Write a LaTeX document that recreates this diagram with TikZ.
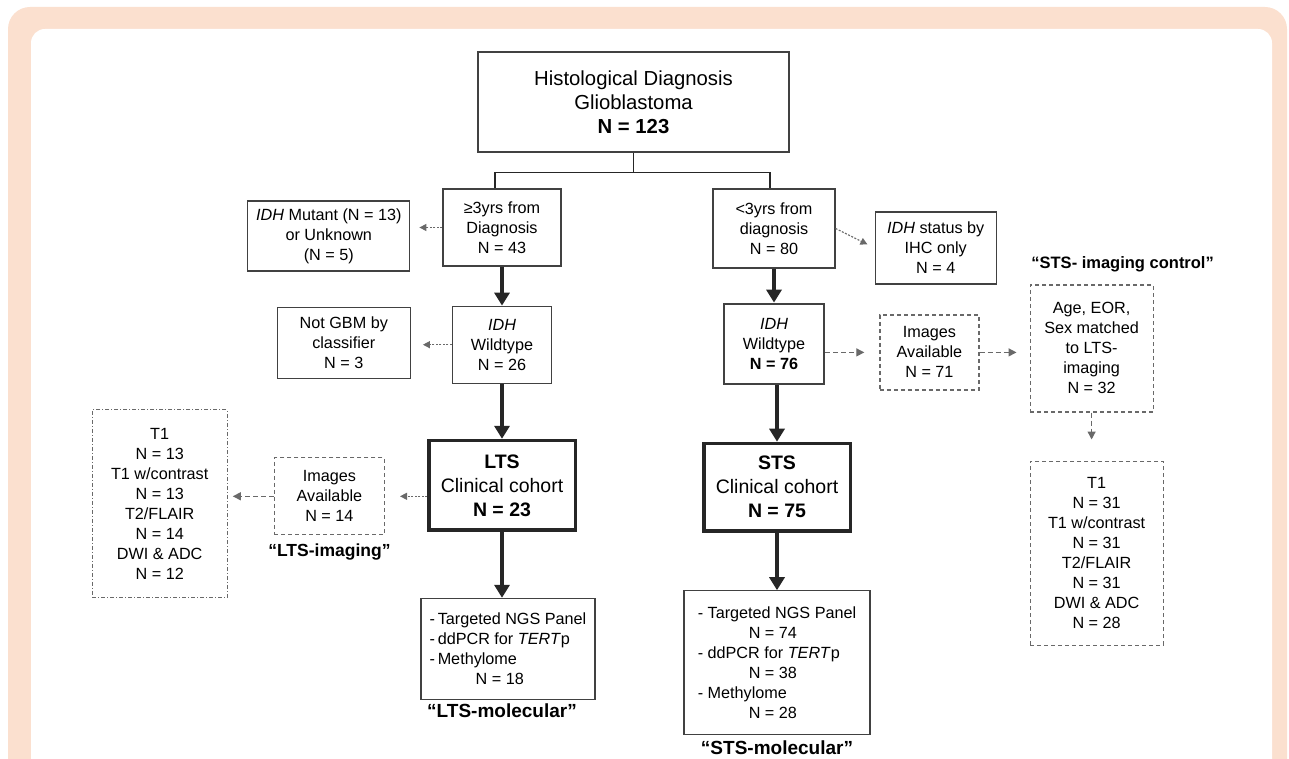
\documentclass[tikz,border=0pt]{standalone}
\usepackage{fontspec}
\setmainfont{Liberation Sans}
\usetikzlibrary{positioning}
\usetikzlibrary{arrows.meta}
\definecolor{peach}{RGB}{251,224,207}
\definecolor{boxgray}{RGB}{65,65,65}
\definecolor{dashgray}{RGB}{105,105,105}
\newcommand{\fsm}{\fontsize{16.2}{20}\selectfont}
\newcommand{\fbig}{\fontsize{19.5}{24}\selectfont}
\newcommand{\flbl}{\fontsize{17.5}{21}\selectfont\bfseries}

\begin{document}
\begin{tikzpicture}[x=1pt, y=-1pt,
  box/.style={draw=boxgray, line width=1.2pt, align=center, inner sep=0pt, font=\fsm},
  cohort/.style={draw=black!85, line width=3.5pt, align=center, inner sep=0pt, font=\fbig},
  dbox/.style={box, draw=dashgray, dash pattern=on 4pt off 3pt},
  ddbox/.style={box, draw=dashgray, dash pattern=on 4pt off 2pt on 1pt off 2pt},
  conn/.style={line width=1.5pt, black!85},
  thickarr/.style={line width=4.5pt, black!85, -{Triangle[width=15pt,length=13pt]}},
  dotarr/.style={line width=1.2pt, dashgray, dash pattern=on 2pt off 1.5pt, -{Triangle[width=7pt,length=7pt]}},
  dasharr/.style={line width=1.3pt, dashgray, dash pattern=on 5pt off 3pt, -{Triangle[width=8pt,length=8pt]}},
  lbl/.style={font=\flbl, inner sep=0pt}
]
\useasboundingbox (0,0) rectangle (1289,759);
% frame
\fill[peach, rounded corners=22pt] (8,7) rectangle (1287,800);
\fill[white, rounded corners=14pt] (31,29) rectangle (1272,800);

\node[box, font=\fontsize{20.3}{24}\selectfont, minimum width=311pt, minimum height=100pt] (root) at (633.5,102)
  {Histological Diagnosis\\Glioblastoma\\\textbf{N = 123}};

% long term survivors
\node[box, minimum width=118pt, minimum height=77pt] (gt3) at (502,227.5) {≥3yrs from\\Diagnosis\\N = 43};
 \node[box, left=32pt of gt3, yshift=-8.5pt, minimum width=162pt, minimum height=70pt] (mut)
   {\textit{IDH} Mutant (N = 13)\\or Unknown\\(N = 5)};
 \draw[dotarr, shorten >=9pt] (gt3.west) -- (gt3.west -| mut.east);
\node[box, below=39pt of gt3, minimum width=99pt, minimum height=77pt] (wt26) {\textit{IDH}\\Wildtype\\N = 26};
 \draw[thickarr] (gt3) -- (wt26);
 \node[box, left=41pt of wt26, yshift=2pt, minimum width=133pt, minimum height=71pt] (ngbm)
   {Not GBM by\\classifier\\N = 3};
 \draw[dotarr, shorten >=12pt] (wt26.west) -- (wt26.west -| ngbm.east);
\node[cohort, below=55pt of wt26, minimum width=146.5pt, minimum height=89.5pt] (lts)
  {\textbf{LTS}\\Clinical cohort\\\textbf{N = 23}};
 \draw[thickarr] (wt26) -- (lts);
 \node[dbox, left=42pt of lts, yshift=-11pt, minimum width=110pt, minimum height=77pt] (img14)
   {Images\\Available\\N = 14};
 \draw[dotarr, shorten >=15pt] (lts.west |- img14.east) -- (img14.east);
 \node[lbl, below=8pt of img14] (lbl14) {“LTS-imaging”};
 \node[ddbox, left=46pt of img14, yshift=-7.5pt, minimum width=135pt, minimum height=188pt] (t1l)
   {T1\\N = 13\\T1 w/contrast\\N = 13\\T2/FLAIR\\N = 14\\DWI \& ADC\\N = 12};
 \draw[dasharr, shorten >=5pt] (img14.west) -- (img14.west -| t1l.east);
\node[box, below=66pt of lts, xshift=6pt, minimum width=174pt, minimum height=101pt, align=left] (lmol)
  {-\,Targeted NGS Panel\\-\,ddPCR for \textit{TERT}p\\-\,Methylome\\\hspace*{46pt}N = 18};
 \draw[thickarr] (lts) -- (lts |- lmol.north);
 \node[lbl, font=\fontsize{19}{22}\selectfont\bfseries, below=4pt of lmol, xshift=-6pt] (lbllm) {“LTS-molecular”};

% short term survivors
\node[box, minimum width=122pt, minimum height=79pt] (lt3) at (774,228.5) {<3yrs from\\diagnosis\\N = 80};
 \draw[conn] (root.south) -- ++(0,20) coordinate (split);
 \draw[conn] (split) -| ([xshift=-7pt]gt3.north);
 \draw[conn] (split) -| ([xshift=-4pt]lt3.north);
 \node[box, right=39pt of lt3, yshift=-19.5pt, minimum width=121pt, minimum height=72pt] (ihc)
   {\textit{IDH} status by\\IHC only\\N = 4};
 \draw[dotarr, shorten >=8pt] (lt3.east) -- (ihc.west);
\node[box, line width=2.6pt, below=34pt of lt3, minimum width=100pt, minimum height=80pt] (wt76)
  {\textit{IDH}\\Wildtype\\\textbf{N = 76}};
 \draw[thickarr] (lt3) -- (wt76);
 \node[dbox, right=54pt of wt76, yshift=-8.5pt, minimum width=99pt, minimum height=75pt] (img71)
   {Images\\Available\\N = 71};
 \draw[dasharr, shorten >=15pt] (img71.west -| wt76.east) -- (img71.west);
 \node[dbox, right=50pt of img71, yshift=4pt, minimum width=123pt, minimum height=127pt] (age)
   {Age, EOR,\\Sex matched\\to LTS-\\imaging\\N = 32};
 \draw[dasharr, shorten >=13pt] (img71.east) -- (img71.east -| age.west);
 \node[lbl, font=\fontsize{16.5}{19}\selectfont\bfseries, above=12pt of age, xshift=31pt] (lblage) {“STS- imaging control”};
 \node[dbox, below=48pt of age, xshift=5pt, minimum width=133pt, minimum height=184pt] (t1r)
   {T1\\N = 31\\T1 w/contrast\\N = 31\\T2/FLAIR\\N = 31\\DWI \& ADC\\N = 28};
 \draw[dasharr, shorten >=21pt] (age.south) -- (age.south |- t1r.north);
\node[cohort, below=56.5pt of wt76, xshift=3pt, minimum width=146.5pt, minimum height=87.5pt] (sts)
  {\textbf{STS}\\Clinical cohort\\\textbf{N = 75}};
 \draw[thickarr] (wt76.south -| sts) -- (sts);
\node[box, below=57.5pt of sts, minimum width=186pt, minimum height=144pt, align=left] (smol)
  {- Targeted NGS Panel\\\hspace*{51pt}N = 74\\- ddPCR for \textit{TERT}p\\\hspace*{51pt}N = 38\\- Methylome\\\hspace*{51pt}N = 28};
 \draw[thickarr] (sts) -- (smol);
 \node[lbl, font=\fontsize{19}{22}\selectfont\bfseries, below=5pt of smol] (lblsm) {“STS-molecular”};
\end{tikzpicture}
\end{document}
